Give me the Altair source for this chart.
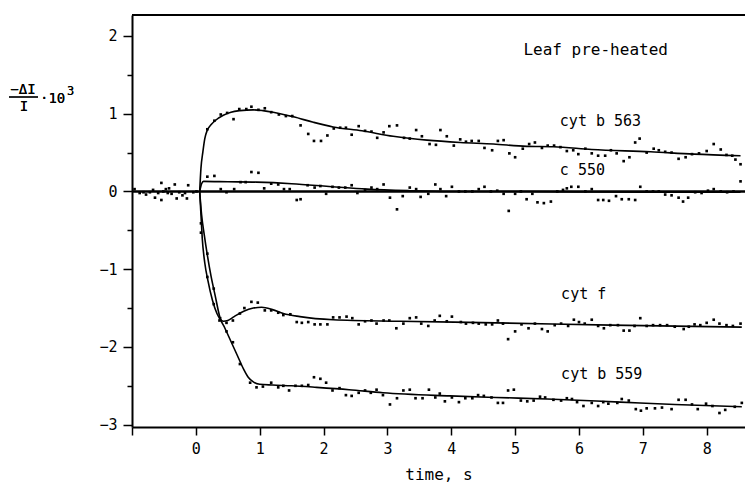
import altair as alt
import pandas as pd

FONT = "DejaVu Sans Mono"

# ---- fitted curves (time in s, signal -dI/I * 10^3) ----
b563_t = [0.06, 0.08, 0.11, 0.14, 0.18, 0.24, 0.30, 0.43, 0.55, 0.69, 0.90, 1.05, 1.21, 1.53, 1.84,
          2.15, 2.60, 3.09, 3.62, 4.14, 4.66, 5.18, 5.60, 6.20, 7.12, 7.80, 8.53]
b563_v = [0.00, 0.30, 0.51, 0.68, 0.79, 0.86, 0.91, 0.98, 1.02, 1.04, 1.05, 1.04, 1.02, 0.96, 0.89,
          0.83, 0.78, 0.71, 0.66, 0.63, 0.61, 0.58, 0.575, 0.54, 0.51, 0.48, 0.46]

c550_t = [0.06, 0.09, 0.12, 0.50, 0.95, 1.50, 2.00, 2.31, 2.68, 3.35, 4.00, 5.00, 6.00, 7.00, 8.53]
c550_v = [0.00, 0.10, 0.13, 0.125, 0.12, 0.10, 0.07, 0.05, 0.03, 0.01, 0.00, 0.00, -0.005, -0.01, -0.01]

cytf_t = [0.06, 0.08, 0.10, 0.14, 0.19, 0.26, 0.33, 0.38, 0.43, 0.50, 0.60, 0.75, 0.90, 1.03, 1.20,
          1.37, 1.63, 2.15, 3.20, 4.70, 6.50, 8.55]
cytf_v = [0.00, -0.30, -0.60, -0.92, -1.15, -1.40, -1.57, -1.64, -1.67, -1.66, -1.61, -1.54, -1.50,
          -1.49, -1.52, -1.57, -1.61, -1.65, -1.67, -1.69, -1.72, -1.745]

b559_t = [0.06, 0.09, 0.13, 0.18, 0.24, 0.30, 0.38, 0.45, 0.55, 0.65, 0.75, 0.82, 0.90, 1.00, 1.20,
          1.50, 1.89, 2.40, 2.93, 3.98, 4.70, 5.50, 6.65, 7.50, 8.55]
b559_v = [0.00, -0.30, -0.55, -0.82, -1.10, -1.33, -1.63, -1.75, -1.93, -2.11, -2.29, -2.39, -2.45,
          -2.48, -2.49, -2.50, -2.52, -2.55, -2.59, -2.63, -2.65, -2.67, -2.71, -2.74, -2.77]

# ---- measured points ----
pre_t = [-0.96, -0.88, -0.82, -0.78, -0.72, -0.67, -0.64, -0.59, -0.54, -0.54, -0.51, -0.47, -0.44,
         -0.42, -0.38, -0.33, -0.30, -0.26, -0.21, -0.17, -0.14, -0.12, -0.04, 0.01]
pre_v = [0.03, -0.02, -0.01, -0.04, -0.01, 0.02, -0.08, -0.02, 0.11, -0.11, 0.00, 0.03, -0.02,
         0.04, -0.03, 0.09, -0.09, -0.01, -0.05, -0.02, -0.09, 0.08, -0.01, 0.00]

b563_pt = [0.18, 0.29, 0.39, 0.49, 0.59, 0.68, 0.79, 0.87, 0.98, 1.08, 1.18, 1.30, 1.41, 1.51, 1.64,
           1.76, 1.85, 1.96, 2.06, 2.16, 2.26, 2.35, 2.44, 2.55, 2.65, 2.75, 2.84, 2.94, 3.03, 3.15,
           3.26, 3.35, 3.45, 3.54, 3.66, 3.76, 3.83, 3.93, 4.04, 4.14, 4.23, 4.32, 4.43, 4.52, 4.64,
           4.73, 4.82, 4.91, 5.00, 5.12, 5.22, 5.31, 5.42, 5.51, 5.61, 5.71, 5.81, 5.91, 5.99, 6.10,
           6.20, 6.30, 6.41, 6.50, 6.59, 6.70, 6.79, 6.88, 6.95, 7.06, 7.17, 7.25, 7.35, 7.45, 7.56,
           7.67, 7.77, 7.88, 8.00, 8.11, 8.22, 8.31, 8.40, 8.45, 8.53]
b563_pv = [0.80, 0.91, 0.99, 1.01, 0.93, 1.06, 1.06, 1.09, 1.05, 1.07, 1.02, 0.99, 0.97, 0.97, 0.85,
           0.74, 0.65, 0.65, 0.72, 0.81, 0.82, 0.82, 0.73, 0.84, 0.78, 0.77, 0.69, 0.76, 0.84, 0.85,
           0.69, 0.68, 0.79, 0.71, 0.61, 0.60, 0.79, 0.71, 0.59, 0.67, 0.64, 0.65, 0.65, 0.56, 0.53,
           0.65, 0.66, 0.49, 0.44, 0.55, 0.61, 0.63, 0.56, 0.59, 0.59, 0.57, 0.52, 0.53, 0.48, 0.55,
           0.49, 0.46, 0.46, 0.53, 0.49, 0.39, 0.44, 0.63, 0.68, 0.50, 0.55, 0.53, 0.51, 0.50, 0.42,
           0.44, 0.48, 0.49, 0.52, 0.61, 0.54, 0.47, 0.46, 0.41, 0.35]

c550_pt = [0.18, 0.29, 0.39, 0.48, 0.60, 0.70, 0.78, 0.87, 0.98, 1.07, 1.18, 1.29, 1.38, 1.47, 1.58,
           1.64, 1.75, 1.86, 1.95, 2.04, 2.14, 2.24, 2.34, 2.44, 2.53, 2.65, 2.75, 2.84, 2.94, 3.04,
           3.15, 3.24, 3.35, 3.45, 3.52, 3.64, 3.75, 3.83, 3.92, 4.01, 4.12, 4.22, 4.33, 4.43, 4.52,
           4.62, 4.72, 4.82, 4.90, 5.00, 5.09, 5.18, 5.27, 5.35, 5.45, 5.56, 5.66, 5.75, 5.81, 5.88,
           5.99, 6.10, 6.20, 6.30, 6.38, 6.47, 6.58, 6.67, 6.78, 6.88, 6.96, 7.06, 7.16, 7.25, 7.35,
           7.45, 7.56, 7.63, 7.71, 7.82, 7.92, 8.02, 8.11, 8.22, 8.32, 8.42, 8.53]
c550_pv = [0.19, 0.20, 0.03, -0.01, 0.03, 0.12, 0.12, 0.25, 0.24, 0.04, 0.10, 0.09, 0.03, 0.03, -0.11,
           -0.10, 0.08, 0.05, 0.07, -0.03, 0.06, 0.05, 0.05, 0.08, -0.02, 0.02, 0.05, 0.03, 0.09, -0.08,
           -0.23, -0.06, 0.05, 0.03, -0.07, -0.03, 0.09, 0.03, -0.06, 0.06, 0.00, 0.00, 0.00, 0.03, 0.06,
           0.00, 0.01, -0.03, -0.25, -0.03, 0.00, -0.10, -0.03, -0.14, -0.15, -0.13, 0.00, 0.02, 0.04, 0.06,
           0.06, 0.00, 0.03, -0.11, -0.11, -0.12, -0.06, -0.10, -0.10, -0.11, 0.06, 0.00, 0.00, 0.00, -0.04,
           -0.05, -0.08, -0.13, -0.08, -0.01, -0.02, 0.01, 0.03, 0.00, -0.01, 0.00, 0.13]

cytf_pt = [0.08, 0.18, 0.28, 0.37, 0.48, 0.58, 0.69, 0.76, 0.87, 0.97, 1.08, 1.18, 1.29, 1.37, 1.48,
           1.58, 1.66, 1.76, 1.86, 1.95, 2.06, 2.15, 2.25, 2.36, 2.45, 2.55, 2.65, 2.75, 2.83, 2.94,
           3.03, 3.14, 3.25, 3.35, 3.45, 3.53, 3.64, 3.74, 3.82, 3.93, 4.01, 4.15, 4.23, 4.34, 4.43,
           4.54, 4.64, 4.73, 4.81, 4.89, 5.00, 5.10, 5.21, 5.31, 5.42, 5.51, 5.62, 5.72, 5.83, 5.92,
           6.00, 6.09, 6.20, 6.30, 6.39, 6.49, 6.61, 6.70, 6.79, 6.87, 6.96, 7.06, 7.16, 7.27, 7.38,
           7.50, 7.64, 7.72, 7.81, 7.90, 8.00, 8.11, 8.20, 8.31, 8.41, 8.53]
cytf_pv = [-0.53, -1.10, -1.45, -1.66, -1.69, -1.66, -1.57, -1.50, -1.42, -1.43, -1.53, -1.53, -1.56,
           -1.59, -1.58, -1.68, -1.69, -1.68, -1.71, -1.71, -1.71, -1.62, -1.62, -1.61, -1.63, -1.71,
           -1.67, -1.66, -1.70, -1.66, -1.66, -1.76, -1.70, -1.63, -1.62, -1.70, -1.73, -1.66, -1.60,
           -1.67, -1.61, -1.68, -1.70, -1.69, -1.70, -1.71, -1.71, -1.66, -1.70, -1.90, -1.80, -1.71,
           -1.76, -1.70, -1.77, -1.80, -1.72, -1.70, -1.73, -1.65, -1.68, -1.70, -1.65, -1.73, -1.76,
           -1.72, -1.72, -1.79, -1.79, -1.73, -1.63, -1.73, -1.72, -1.72, -1.72, -1.74, -1.77, -1.74,
           -1.71, -1.72, -1.69, -1.65, -1.70, -1.72, -1.73, -1.70]

b559_pt = [0.08, 0.18, 0.28, 0.38, 0.48, 0.58, 0.69, 0.85, 0.95, 1.05, 1.18, 1.29, 1.37, 1.46, 1.56,
           1.66, 1.76, 1.85, 1.95, 2.04, 2.14, 2.25, 2.35, 2.44, 2.55, 2.65, 2.74, 2.83, 2.93, 3.04,
           3.15, 3.25, 3.35, 3.44, 3.55, 3.65, 3.75, 3.82, 3.90, 4.01, 4.12, 4.22, 4.33, 4.42, 4.51,
           4.63, 4.73, 4.81, 4.89, 4.98, 5.09, 5.19, 5.29, 5.39, 5.47, 5.60, 5.72, 5.81, 5.89, 5.97,
           6.07, 6.20, 6.30, 6.38, 6.46, 6.60, 6.67, 6.78, 6.89, 6.97, 7.06, 7.19, 7.30, 7.45, 7.56,
           7.67, 7.77, 7.86, 7.99, 8.09, 8.20, 8.29, 8.44, 8.55]
b559_pv = [-0.41, -0.80, -1.25, -1.63, -1.80, -1.94, -2.22, -2.46, -2.52, -2.51, -2.46, -2.52, -2.50,
           -2.56, -2.50, -2.50, -2.49, -2.39, -2.41, -2.46, -2.56, -2.53, -2.62, -2.63, -2.59, -2.56,
           -2.59, -2.55, -2.62, -2.74, -2.66, -2.56, -2.55, -2.66, -2.66, -2.55, -2.65, -2.60, -2.70,
           -2.65, -2.71, -2.66, -2.66, -2.62, -2.63, -2.65, -2.72, -2.72, -2.56, -2.55, -2.69, -2.70,
           -2.69, -2.64, -2.65, -2.68, -2.69, -2.66, -2.67, -2.71, -2.76, -2.72, -2.76, -2.71, -2.73,
           -2.72, -2.67, -2.69, -2.80, -2.82, -2.79, -2.79, -2.78, -2.80, -2.68, -2.68, -2.74, -2.80,
           -2.73, -2.76, -2.85, -2.81, -2.77, -2.72]

# ---- curve labels ----
label_text = ["Leaf pre-heated", "cyt b 563", "c 550", "cyt f", "cyt b 559"]
label_t = [5.13, 5.70, 5.70, 5.72, 5.72]
label_v = [1.82, 0.90, 0.28, -1.32, -2.35]
label_size = [16, 15, 15, 15, 15]

X_MIN, X_MAX = -1.0, 8.6
Y_MIN, Y_MAX = -3.03, 2.27
W, H = 613, 412

curves = pd.concat([
    pd.DataFrame({"series": name, "t": t, "v": v})
    for name, t, v in [("b563", b563_t, b563_v), ("c550", c550_t, c550_v),
                       ("cytf", cytf_t, cytf_v), ("b559", b559_t, b559_v)]
])
points = pd.concat([
    pd.DataFrame({"t": t, "v": v})
    for t, v in [(pre_t, pre_v), (b563_pt, b563_pv), (c550_pt, c550_pv),
                 (cytf_pt, cytf_pv), (b559_pt, b559_pv)]
])
baseline = pd.DataFrame({"t": [X_MIN, X_MAX], "v": [0.0, 0.0]})
labels = pd.DataFrame({"t": label_t, "v": label_v, "text": label_text, "size": label_size})

x_scale = alt.Scale(domain=[X_MIN, X_MAX], nice=False, zero=False)
y_scale = alt.Scale(domain=[Y_MIN, Y_MAX], nice=False, zero=False)

x_axis = alt.Axis(
    values=list(range(-1, 9)),
    labelExpr="datum.value < 0 ? '' : format(datum.value, 'd')",
    tickSize=8, tickWidth=1.5, tickColor="black",
    domainWidth=2, domainColor="black",
    labelFont=FONT, labelFontSize=15, labelColor="black", labelPadding=6,
    title="time, s", titleFont=FONT, titleFontSize=16, titleFontWeight="normal",
    titleColor="black", titlePadding=10, grid=False,
)
y_axis = alt.Axis(
    values=[-3, -2.5, -2, -1.5, -1, -0.5, 0, 0.5, 1, 1.5, 2],
    labelExpr="datum.value % 1 === 0 ? format(datum.value, 'd') : ''",
    tickSize={"condition": {"test": "datum.value % 1 === 0", "value": 9}, "value": 5},
    tickWidth=1.5, tickColor="black",
    domainWidth=2, domainColor="black",
    labelFont=FONT, labelFontSize=15, labelColor="black", labelPadding=6,
    title=None, grid=False,
)

x_enc = alt.X("t:Q", scale=x_scale, axis=x_axis)
y_enc = alt.Y("v:Q", scale=y_scale, axis=y_axis)

zero_line = alt.Chart(baseline).mark_line(color="black", strokeWidth=2.5).encode(x=x_enc, y=y_enc)

fits = alt.Chart(curves).mark_line(
    color="black", strokeWidth=1.6, interpolate="monotone"
).encode(x="t:Q", y="v:Q", detail="series:N")

dots = alt.Chart(points).mark_square(color="black", size=7, opacity=1).encode(x="t:Q", y="v:Q")

names = alt.Chart(labels).mark_text(
    font=FONT, align="left", baseline="middle", color="black"
).encode(x="t:Q", y="v:Q", text="text:N", size=alt.Size("size:Q", scale=None, legend=None))

# top frame line
frame_top = alt.Chart(baseline).mark_rule(color="black", strokeWidth=2).encode(
    x=alt.value(0), x2=alt.value(W), y=alt.value(0)
)

# y-axis quantity: fraction -ΔI / I times 10^3
def txt(s, x, y, size=14, align="center"):
    return alt.Chart(baseline).mark_text(
        text=s, font=FONT, fontSize=size, align=align, baseline="alphabetic", color="black"
    ).encode(x=alt.value(x), y=alt.value(y))

frac_num = txt("\u2212\u0394I", -109, 79)
frac_den = txt("I", -108, 96)
frac_bar = alt.Chart(baseline).mark_rule(color="black", strokeWidth=1.2).encode(
    x=alt.value(-123), x2=alt.value(-94), y=alt.value(82)
)
times_ten = txt("\u00b710", -92, 88, align="left")
exponent = txt("3", -65, 80, size=12, align="left")

chart = alt.layer(
    zero_line, fits, dots, names, frame_top,
    frac_num, frac_den, frac_bar, times_ten, exponent
).properties(
    width=W, height=H,
    padding={"left": 132, "top": 15, "right": 0, "bottom": 65},
    autosize=alt.AutoSizeParams(type="none"),
    background="white",
).configure_view(stroke=None)

chart.save("out.html", embed_options={"renderer": "svg", "actions": False})
